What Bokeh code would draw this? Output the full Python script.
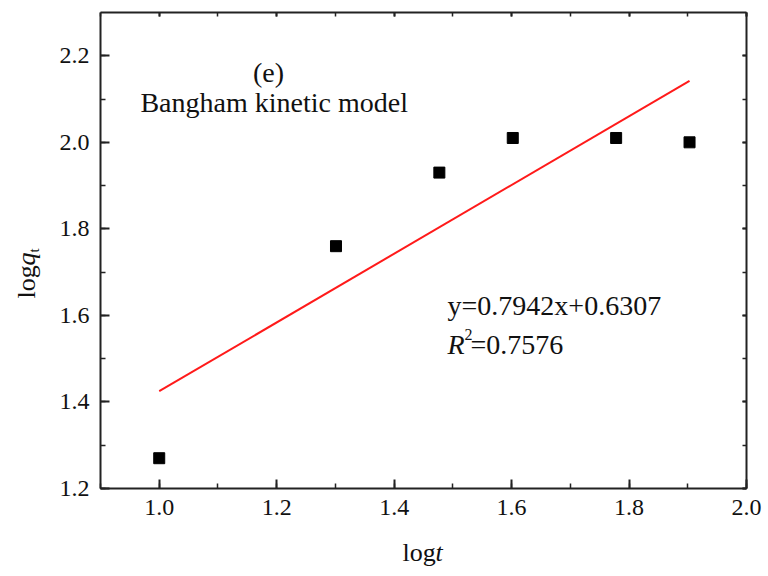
import numpy as np
from bokeh.plotting import figure
from bokeh.layouts import column, row
from bokeh.models import LinearAxis, SingleIntervalTicker, Label, Range1d, PrintfTickFormatter
from bokeh.embed import file_html
from bokeh.resources import INLINE

# data
log_t = [1.0, 1.301, 1.477, 1.602, 1.778, 1.903]
log_qt = [1.27, 1.76, 1.93, 2.01, 2.01, 2.00]
slope = 0.7942
intercept = 0.6307
fit_x = [min(log_t), max(log_t)]
fit_y = [slope * v + intercept for v in fit_x]

FONT = "Liberation Serif"
AX = "#222222"
LEFT_W = 50
MAIN_H = 536

p = figure(width=768 - LEFT_W, height=MAIN_H, output_backend="svg", toolbar_location=None,
           x_range=Range1d(0.9, 2.0), y_range=Range1d(1.2, 2.3),
           min_border_left=100 - LEFT_W, min_border_right=22, min_border_top=12,
           min_border_bottom=MAIN_H - 488, x_axis_location=None, y_axis_location=None)
p.outline_line_color = None
p.xgrid.visible = False
p.ygrid.visible = False

def make_axis(labels):
    ax = LinearAxis(ticker=SingleIntervalTicker(interval=0.2, num_minor_ticks=2),
                    formatter=PrintfTickFormatter(format="%.1f"))
    ax.axis_line_color = AX
    ax.axis_line_width = 2
    ax.major_tick_line_color = AX
    ax.minor_tick_line_color = AX
    ax.major_tick_line_width = 2
    ax.minor_tick_line_width = 1.5
    ax.major_tick_out = 0
    ax.minor_tick_out = 0
    if labels:
        ax.major_tick_in = 9
        ax.minor_tick_in = 5
        ax.major_label_text_font = FONT
        ax.major_label_text_font_size = "24px"
        ax.major_label_text_color = "#111111"
        ax.major_label_standoff = 11
    else:
        ax.major_tick_in = 4
        ax.minor_tick_in = 4
        ax.major_label_text_font_size = "1px"
        ax.major_label_text_color = None
        ax.major_label_standoff = 0
    return ax

p.add_layout(make_axis(True), "below")
p.add_layout(make_axis(True), "left")
p.add_layout(make_axis(False), "above")
p.add_layout(make_axis(False), "right")

p.line(fit_x, fit_y, line_color="#ff1a1a", line_width=2)
p.scatter(log_t, log_qt, marker="square", size=11, fill_color="black", line_color="black")

def lab(x, y, text, size="28px", style="normal", align="left", angle=0.0):
    p.add_layout(Label(x=x, y=y, text=text, text_font=FONT, text_font_size=size,
                       text_font_style=style, text_align=align, text_baseline="middle",
                       text_color="#111111", angle=angle))

lab(1.186, 2.161, "(e)", align="center")
lab(0.968, 2.092, "Bangham kinetic model")
lab(1.491, 1.624, "y=0.7942x+0.6307")
lab(1.491, 1.533, "R", style="italic")
lab(1.520, 1.556, "2", size="16px")
lab(1.530, 1.533, "=0.7576")

def title_fig(w, h):
    f = figure(width=w, height=h, output_backend="svg", toolbar_location=None,
               min_border=0, x_axis_location=None, y_axis_location=None,
               x_range=Range1d(0, 1), y_range=Range1d(0, 1))
    f.outline_line_color = None
    f.xgrid.visible = False
    f.ygrid.visible = False
    return f

def clab(f, px, py, text, size="26px", style="normal", angle=0.0):
    f.add_layout(Label(x=px, y=py, x_units="canvas", y_units="canvas", text=text,
                       text_font=FONT, text_font_size=size, text_font_style=style,
                       text_align="left", text_baseline="middle",
                       text_color="#111111", angle=angle))

# y axis title
fy = title_fig(LEFT_W, MAIN_H)
clab(fy, 26, 298, "log", angle=np.pi / 2)
clab(fy, 26, 265, "q", style="italic", angle=np.pi / 2)
clab(fy, 33, 252, "t", size="15px", angle=np.pi / 2)

# x axis title
fx = title_fig(768, 576 - MAIN_H)
clab(fx, 402, 552 - MAIN_H, "log")
clab(fx, 435, 552 - MAIN_H, "t", style="italic")

layout = column(row(fy, p), fx)
open("out.html", "w").write(file_html(layout, INLINE))
